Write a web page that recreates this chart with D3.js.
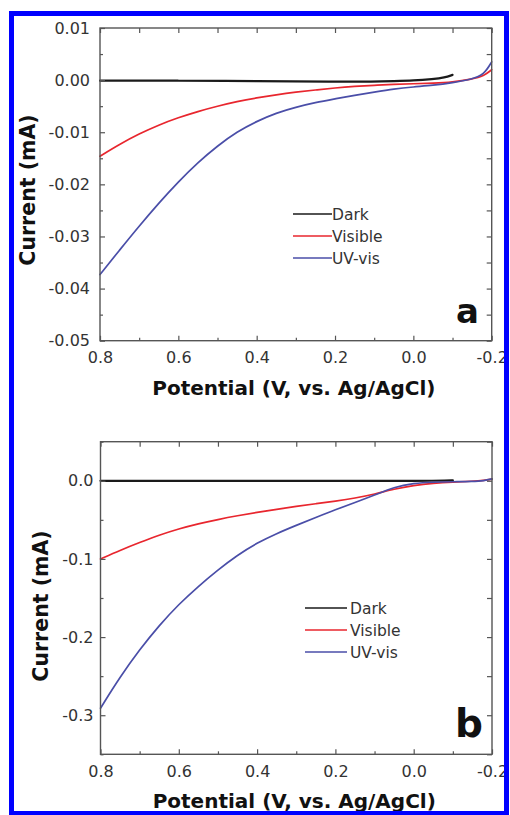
<!DOCTYPE html>
<html>
<head>
<meta charset="utf-8">
<script src="https://cdn.jsdelivr.net/npm/d3@7"></script>
<style>
  html, body { margin: 0; padding: 0; background: #fff; }
  svg { display: block; }
  text { font-family: "DejaVu Sans", "Liberation Sans", Arial, sans-serif; }
</style>
</head>
<body>
<svg id="chart" width="510" height="815"></svg>
<script>
// ---------- DATA ----------
const seriesNames = ["Dark", "Visible", "UV-vis"];
const xTicks = [0.8, 0.6, 0.4, 0.2, 0.0, -0.2];
const xTickLabels = ["0.8", "0.6", "0.4", "0.2", "0.0", "-0.2"];
const xMinorTicks = [0.7, 0.5, 0.3, 0.1, -0.1];

const yTicksA = [0.01, 0.00, -0.01, -0.02, -0.03, -0.04, -0.05];
const yTickLabelsA = ["0.01", "0.00", "-0.01", "-0.02", "-0.03", "-0.04", "-0.05"];
const yMinorTicksA = [0.005, -0.005, -0.015, -0.025, -0.035, -0.045];

const yTicksB = [0.0, -0.1, -0.2, -0.3];
const yTickLabelsB = ["0.0", "-0.1", "-0.2", "-0.3"];
const yMinorTicksB = [0.05, -0.05, -0.15, -0.25, -0.35];

// potential (V vs Ag/AgCl)
const potentialLight = [0.8, 0.75, 0.7, 0.65, 0.6, 0.55, 0.5, 0.45, 0.4, 0.35, 0.3, 0.25, 0.2, 0.15, 0.1, 0.05, 0.0, -0.05, -0.1, -0.15, -0.18, -0.2];
const potentialDark = [0.8, 0.6, 0.4, 0.2, 0.1, 0.05, 0.0, -0.05, -0.08, -0.1];

// panel a currents (mA)
const darkA = [-0.0001, -0.0001, -0.0002, -0.0003, -0.0003, -0.0002, -0.0001, 0.0002, 0.0005, 0.0010];
const visibleA = [-0.0146, -0.0123, -0.0103, -0.0086, -0.0072, -0.0060, -0.0050, -0.0041, -0.0034, -0.0028, -0.0023, -0.0019, -0.0015, -0.0012, -0.0010, -0.0008, -0.0007, -0.0006, -0.0004, 0.0002, 0.0008, 0.0020];
const uvvisA = [-0.0373, -0.0326, -0.0280, -0.0236, -0.0195, -0.0158, -0.0126, -0.0099, -0.0079, -0.0063, -0.0052, -0.0043, -0.0036, -0.0029, -0.0023, -0.0017, -0.0013, -0.0010, -0.0005, 0.0002, 0.0010, 0.0035];

// panel b currents (mA)
const darkB = [0.0, 0.0, 0.0, 0.0, 0.0, 0.0, 0.0, 0.0, 0.0002, 0.0005];
const visibleB = [-0.100, -0.089, -0.079, -0.0695, -0.0615, -0.055, -0.0495, -0.0447, -0.0405, -0.0365, -0.0328, -0.0294, -0.0260, -0.0222, -0.0172, -0.0105, -0.0060, -0.0032, -0.0016, -0.0006, 0.0005, 0.0020];
const uvvisB = [-0.291, -0.251, -0.216, -0.185, -0.158, -0.135, -0.114, -0.095, -0.0795, -0.0675, -0.0570, -0.0470, -0.0370, -0.0278, -0.0185, -0.0080, -0.0032, -0.0017, -0.0012, -0.0009, 0.0000, 0.0025];

const xTitle = "Potential (V, vs. Ag/AgCl)";
const yTitle = "Current (mA)";

// ---------- DRAW ----------
const svg = d3.select("#chart");
const colors = ["#1a1a1a", "#e8262e", "#4a4ea8"];
const axisColor = "#555";

svg.append("rect").attr("x", 0).attr("y", 0).attr("width", 510).attr("height", 815).attr("fill", "#fff");

function panel(cfg) {
  const x = d3.scaleLinear().domain([0.8, -0.2]).range([cfg.left, cfg.right]);
  const y = d3.scaleLinear().domain(cfg.yDomain).range([cfg.bottom, cfg.top]);
  const g = svg.append("g");

  // curves
  const line = d3.line().x(d => x(d[0])).y(d => y(d[1])).curve(d3.curveBasis);
  cfg.series.forEach((s, i) => {
    const pts = s.x.map((v, k) => [v, s.y[k]]);
    g.append("path").attr("d", line(pts)).attr("fill", "none")
      .attr("stroke", colors[i]).attr("stroke-width", i === 0 ? 2.2 : 1.7)
      .attr("stroke-linejoin", "round").attr("stroke-linecap", "round");
  });

  const styleAxis = sel => {
    sel.select(".domain").remove();
    sel.selectAll("line").attr("stroke", axisColor).attr("stroke-width", 1.2);
    sel.selectAll("text").attr("fill", "#333").attr("font-size", 16)
      .style("font-family", "'DejaVu Sans', sans-serif");
  };

  // bottom
  g.append("g").attr("transform", `translate(0,${cfg.bottom})`)
    .call(d3.axisBottom(x).tickValues(xTicks).tickFormat((d, i) => xTickLabels[i])
      .tickSizeInner(-5).tickSizeOuter(0).tickPadding(11)).call(styleAxis);
  g.append("g").attr("transform", `translate(0,${cfg.bottom})`)
    .call(d3.axisBottom(x).tickValues(xMinorTicks).tickFormat("")
      .tickSizeInner(-3).tickSizeOuter(0)).call(styleAxis);
  // top
  g.append("g").attr("transform", `translate(0,${cfg.top})`)
    .call(d3.axisTop(x).tickValues(xTicks.concat(xMinorTicks)).tickFormat("")
      .tickSizeInner(-5).tickSizeOuter(0)).call(styleAxis);
  // left
  g.append("g").attr("transform", `translate(${cfg.left},0)`)
    .call(d3.axisLeft(y).tickValues(cfg.yTicks).tickFormat((d, i) => cfg.yLabels[i])
      .tickSizeInner(-5).tickSizeOuter(0).tickPadding(cfg.yPad)).call(styleAxis);
  g.append("g").attr("transform", `translate(${cfg.left},0)`)
    .call(d3.axisLeft(y).tickValues(cfg.yMinor).tickFormat("")
      .tickSizeInner(-3).tickSizeOuter(0)).call(styleAxis);
  // right
  g.append("g").attr("transform", `translate(${cfg.right},0)`)
    .call(d3.axisRight(y).tickValues(cfg.yTicks.concat(cfg.yMinor)).tickFormat("")
      .tickSizeInner(-5).tickSizeOuter(0)).call(styleAxis);

  // frame
  g.append("rect").attr("x", cfg.left).attr("y", cfg.top)
    .attr("width", cfg.right - cfg.left).attr("height", cfg.bottom - cfg.top)
    .attr("fill", "none").attr("stroke", axisColor).attr("stroke-width", 1.4);

  // titles
  g.append("text").attr("x", (cfg.left + cfg.right) / 2 - 2).attr("y", cfg.xTitleY)
    .attr("text-anchor", "middle").attr("font-weight", "bold").attr("font-size", 20)
    .attr("fill", "#111").text(xTitle);
  g.append("text").attr("transform", `translate(${cfg.yTitleX},${cfg.yTitleY}) rotate(-90)`)
    .attr("text-anchor", "middle").attr("font-weight", "bold").attr("font-size", 20.5)
    .attr("fill", "#111").text(yTitle);

  // legend
  seriesNames.forEach((name, i) => {
    const ly = cfg.legY + i * 22;
    g.append("line").attr("x1", cfg.legX1).attr("x2", cfg.legX2).attr("y1", ly).attr("y2", ly)
      .attr("stroke", colors[i]).attr("stroke-width", 1.7);
    g.append("text").attr("x", cfg.legTX).attr("y", ly + 5.5).attr("font-size", 15.5)
      .attr("fill", "#333").text(name);
  });

  // panel letter
  g.append("text").attr("x", cfg.letterX).attr("y", cfg.letterY)
    .attr("font-weight", "bold").attr("font-size", cfg.letterSize).attr("fill", "#111").text(cfg.letter);
}

panel({
  left: 100, right: 491.7, top: 28, bottom: 340.7,
  yDomain: [-0.05, 0.01], yTicks: yTicksA, yLabels: yTickLabelsA, yMinor: yMinorTicksA, yPad: 10,
  series: [
    { x: potentialDark, y: darkA },
    { x: potentialLight, y: visibleA },
    { x: potentialLight, y: uvvisA }
  ],
  xTitleY: 395, yTitleX: 35, yTitleY: 190,
  legY: 214, legX1: 293, legX2: 332, legTX: 332,
  letter: "a", letterX: 456, letterY: 323, letterSize: 34
});

panel({
  left: 100.5, right: 492, top: 441.7, bottom: 754.3,
  yDomain: [-0.35, 0.05], yTicks: yTicksB, yLabels: yTickLabelsB, yMinor: yMinorTicksB, yPad: 7,
  series: [
    { x: potentialDark, y: darkB },
    { x: potentialLight, y: visibleB },
    { x: potentialLight, y: uvvisB }
  ],
  xTitleY: 808, yTitleX: 48, yTitleY: 606,
  legY: 608, legX1: 305, legX2: 347, legTX: 350,
  letter: "b", letterX: 455, letterY: 737, letterSize: 39
});

// blue frame around the figure
svg.append("rect").attr("x", 11.5).attr("y", 13.5).attr("width", 495).attr("height", 800)
  .attr("fill", "none").attr("stroke", "#0000ff").attr("stroke-width", 5);
</script>
</body>
</html>
